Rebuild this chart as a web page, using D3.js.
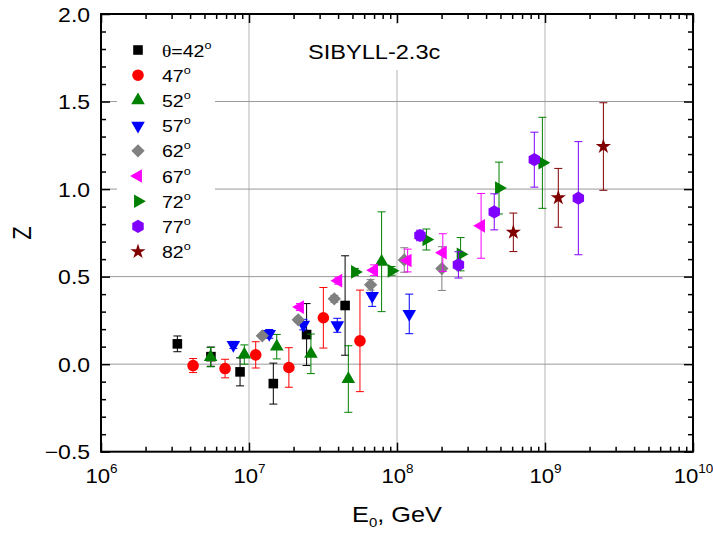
<!DOCTYPE html>
<html>
<head>
<meta charset="utf-8">
<script src="https://cdn.jsdelivr.net/npm/d3@7"></script>
<style>
  body { margin: 0; background: #fff; }
  svg { font-family: "Liberation Sans", Arial, sans-serif; }
</style>
</head>
<body>
<svg id="chart" width="713" height="535"></svg>
<script>
// [E0 (GeV), Z, dZ] for each zenith angle
const theta42 = [[3.28e6, 0.116, 0.045], [5.53e6, 0.043, 0.055], [8.7e6, -0.044, 0.08], [1.46e7, -0.111, 0.117], [2.45e7, 0.169, 0.177], [4.46e7, 0.335, 0.284]];
const theta47 = [[4.19e6, -0.008, 0.04], [6.89e6, -0.025, 0.053], [1.11e7, 0.053, 0.075], [1.86e7, -0.019, 0.113], [3.18e7, 0.265, 0.173], [5.62e7, 0.133, 0.29]];
const theta52 = [[5.5e6, 0.04, 0.055], [9.3e6, 0.055, 0.055], [1.54e7, 0.1, 0.07], [2.62e7, 0.059, 0.113], [4.69e7, -0.085, 0.19], [7.87e7, 0.585, 0.285]];
const theta57 = [[7.84e6, 0.11, 0.02], [1.37e7, 0.173, 0.025], [2.33e7, 0.226, 0.03], [3.95e7, 0.222, 0.04], [6.8e7, 0.39, 0.06], [1.21e8, 0.287, 0.113]];
const theta62 = [[1.23e7, 0.162, 0.01], [2.15e7, 0.253, 0.015], [3.77e7, 0.373, 0.02], [6.63e7, 0.453, 0.03], [1.12e8, 0.595, 0.07], [2.01e8, 0.546, 0.125]];
const theta67 = [[2.21e7, 0.326, 0.02], [4.01e7, 0.477, 0.02], [7.0e7, 0.537, 0.03], [1.18e8, 0.592, 0.065], [2.04e8, 0.637, 0.108], [3.7e8, 0.79, 0.185]];
const theta72 = [[5.2e7, 0.527, 0.02], [9.2e7, 0.533, 0.025], [1.58e8, 0.712, 0.06], [2.69e8, 0.628, 0.095], [4.89e8, 1.006, 0.148], [9.6e8, 1.15, 0.26]];
const theta77 = [[1.43e8, 0.735, 0.03], [2.6e8, 0.567, 0.075], [4.54e8, 0.87, 0.103], [8.47e8, 1.168, 0.157], [1.68e9, 0.948, 0.323]];
const theta82 = [[6.11e8, 0.753, 0.11], [1.23e9, 0.95, 0.168], [2.48e9, 1.243, 0.25]];

const angles = [42, 47, 52, 57, 62, 67, 72, 77, 82];
const xTicks = [1e6, 1e7, 1e8, 1e9, 1e10];
const yTicks = [-0.5, 0.0, 0.5, 1.0, 1.5, 2.0];
const modelLabel = "SIBYLL-2.3c";

const series = [theta42, theta47, theta52, theta57, theta62, theta67, theta72, theta77, theta82];
const colors = ["#000000", "#ff0000", "#008000", "#0000ff", "#808080", "#ff00ff", "#008000", "#8000ff", "#800000"];

const svg = d3.select("#chart");
const pLeft = 101, pRight = 693, pTop = 14, pBottom = 451.7;
const sx = 1.15; // horizontal stretch of the text in the reference

const x = d3.scaleLog().domain([1e6, 1e10]).range([pLeft, pRight]);
const y = d3.scaleLinear().domain([-0.5, 2]).range([pBottom, pTop]);

// grid
svg.append("g").selectAll("line").data(xTicks.slice(1, -1)).join("line")
  .attr("x1", d => x(d)).attr("x2", d => x(d)).attr("y1", pTop).attr("y2", pBottom)
  .attr("stroke", "#b4b4b4").attr("stroke-width", 1);
svg.append("g").selectAll("line").data([0, 0.5, 1.0, 1.5]).join("line")
  .attr("x1", pLeft).attr("x2", pRight).attr("y1", d => y(d)).attr("y2", d => y(d))
  .attr("stroke", "#9a9a9a").attr("stroke-width", 1);

// white boxes behind the legend and the model label
svg.append("rect").attr("x", 117).attr("y", 34).attr("width", 98).attr("height", 232).attr("fill", "#fff");
svg.append("rect").attr("x", 300).attr("y", 24).attr("width", 148).attr("height", 46).attr("fill", "#fff");

// marker shapes
function hexPath(r) {
  const pts = d3.range(6).map(i => {
    const a = Math.PI / 3 * i - Math.PI / 2;
    return [r * Math.cos(a), r * Math.sin(a)];
  });
  return "M" + pts.join("L") + "Z";
}
const tri = d3.symbol(d3.symbolTriangle, 80)();
const shapes = [
  { d: d3.symbol(d3.symbolSquare, 92)(), rot: 0 },
  { d: d3.symbol(d3.symbolCircle, 106)(), rot: 0 },
  { d: tri, rot: 0 },
  { d: tri, rot: 180 },
  { d: d3.symbol(d3.symbolSquare, 88)(), rot: 45 },
  { d: tri, rot: -90 },
  { d: tri, rot: 90 },
  { d: hexPath(6.6), rot: 0 },
  { d: d3.symbol(d3.symbolStar, 72)(), rot: 0 }
];

// data
series.forEach((data, i) => {
  const g = svg.append("g").attr("stroke", colors[i]).attr("fill", colors[i]);
  const eb = g.selectAll(".eb").data(data).join("g").attr("class", "eb").attr("stroke-width", 1);
  eb.append("line")
    .attr("x1", d => x(d[0])).attr("x2", d => x(d[0]))
    .attr("y1", d => y(d[1] - d[2])).attr("y2", d => y(d[1] + d[2]));
  eb.append("line")
    .attr("x1", d => x(d[0]) - 4).attr("x2", d => x(d[0]) + 4)
    .attr("y1", d => y(d[1] + d[2])).attr("y2", d => y(d[1] + d[2]));
  eb.append("line")
    .attr("x1", d => x(d[0]) - 4).attr("x2", d => x(d[0]) + 4)
    .attr("y1", d => y(d[1] - d[2])).attr("y2", d => y(d[1] - d[2]));
  g.selectAll(".pt").data(data).join("path").attr("class", "pt")
    .attr("d", shapes[i].d).attr("stroke", "none")
    .attr("transform", d => `translate(${x(d[0])},${y(d[1])}) rotate(${shapes[i].rot})`);
});

// axes: inward ticks on all four sides
const minor = [];
for (let e = 6; e < 10; e++) for (let k = 2; k <= 9; k++) minor.push(k * Math.pow(10, e));
const yMinor = d3.range(-0.5, 2.001, 0.1).filter(v => Math.abs(v * 2 - Math.round(v * 2)) > 1e-6);

function styleAxis(g) {
  g.select(".domain").remove();
  g.selectAll(".tick line").attr("stroke", "#000").attr("stroke-width", 1.5);
}
svg.append("g").attr("transform", `translate(0,${pBottom})`)
  .call(d3.axisBottom(x).tickValues(minor).tickSize(-5).tickFormat("")).call(styleAxis);
svg.append("g").attr("transform", `translate(0,${pTop})`)
  .call(d3.axisTop(x).tickValues(minor).tickSize(-5).tickFormat("")).call(styleAxis);
svg.append("g").attr("transform", `translate(0,${pTop})`)
  .call(d3.axisTop(x).tickValues(xTicks).tickSize(-9).tickFormat("")).call(styleAxis);
svg.append("g").attr("transform", `translate(${pLeft},0)`)
  .call(d3.axisLeft(y).tickValues(yMinor).tickSize(-5).tickFormat("")).call(styleAxis);
svg.append("g").attr("transform", `translate(${pRight},0)`)
  .call(d3.axisRight(y).tickValues(yMinor).tickSize(-5).tickFormat("")).call(styleAxis);
svg.append("g").attr("transform", `translate(${pRight},0)`)
  .call(d3.axisRight(y).tickValues(yTicks).tickSize(-9).tickFormat("")).call(styleAxis);

const xAxis = svg.append("g").attr("transform", `translate(0,${pBottom})`)
  .call(d3.axisBottom(x).tickValues(xTicks).tickSize(-9).tickPadding(17).tickFormat(() => "10"))
  .call(styleAxis);
xAxis.selectAll(".tick text")
  .attr("fill", "#000").attr("font-size", 20.5).attr("font-family", "Liberation Sans, Arial, sans-serif")
  .attr("transform", "scale(1.08,1)")
  .append("tspan").attr("font-size", 12.5).attr("dy", "-0.8em")
  .text(d => Math.round(Math.log10(d)));

const yAxis = svg.append("g").attr("transform", `translate(${pLeft},0)`)
  .call(d3.axisLeft(y).tickValues(yTicks).tickSize(-9).tickPadding(9.5).tickFormat(d3.format(".1f")))
  .call(styleAxis);
yAxis.selectAll(".tick text")
  .attr("fill", "#000").attr("font-size", 20).attr("font-family", "Liberation Sans, Arial, sans-serif")
  .attr("dy", "0.36em").attr("transform", `scale(${sx},1)`);

// frame
svg.append("rect").attr("x", pLeft).attr("y", pTop)
  .attr("width", pRight - pLeft).attr("height", pBottom - pTop)
  .attr("fill", "none").attr("stroke", "#000").attr("stroke-width", 2);

// axis titles
const xt = svg.append("text").attr("transform", `translate(${(pLeft + pRight) / 2},522) scale(${sx},1)`)
  .attr("text-anchor", "middle").attr("font-size", 22);
xt.append("tspan").text("E");
xt.append("tspan").attr("font-size", 13).attr("dy", 5).text("0");
xt.append("tspan").attr("dy", -5).text(", GeV");

svg.append("text").attr("transform", `translate(31,233) rotate(-90) scale(1,${sx})`)
  .attr("text-anchor", "middle").attr("font-size", 22).text("Z");

// model label
svg.append("text").attr("transform", `translate(308,59) scale(${sx},1)`)
  .attr("font-size", 20.5).text(modelLabel);

// legend
const leg = svg.append("g");
angles.forEach((a, i) => {
  const ly = 50 + i * 25.2;
  leg.append("path").attr("d", shapes[i].d).attr("fill", colors[i])
    .attr("transform", `translate(138,${ly}) rotate(${shapes[i].rot})`);
  const t = leg.append("text").attr("transform", `translate(162,${ly + 6.5}) scale(${sx},1)`)
    .attr("font-size", 17);
  if (i === 0) {
    t.append("tspan").attr("font-family", "Liberation Serif, serif").text("θ");
    t.append("tspan").text("=" + a);
  } else {
    t.append("tspan").text(a);
  }
  t.append("tspan").attr("font-size", 11).attr("dy", -8).text("o");
});
</script>
</body>
</html>
